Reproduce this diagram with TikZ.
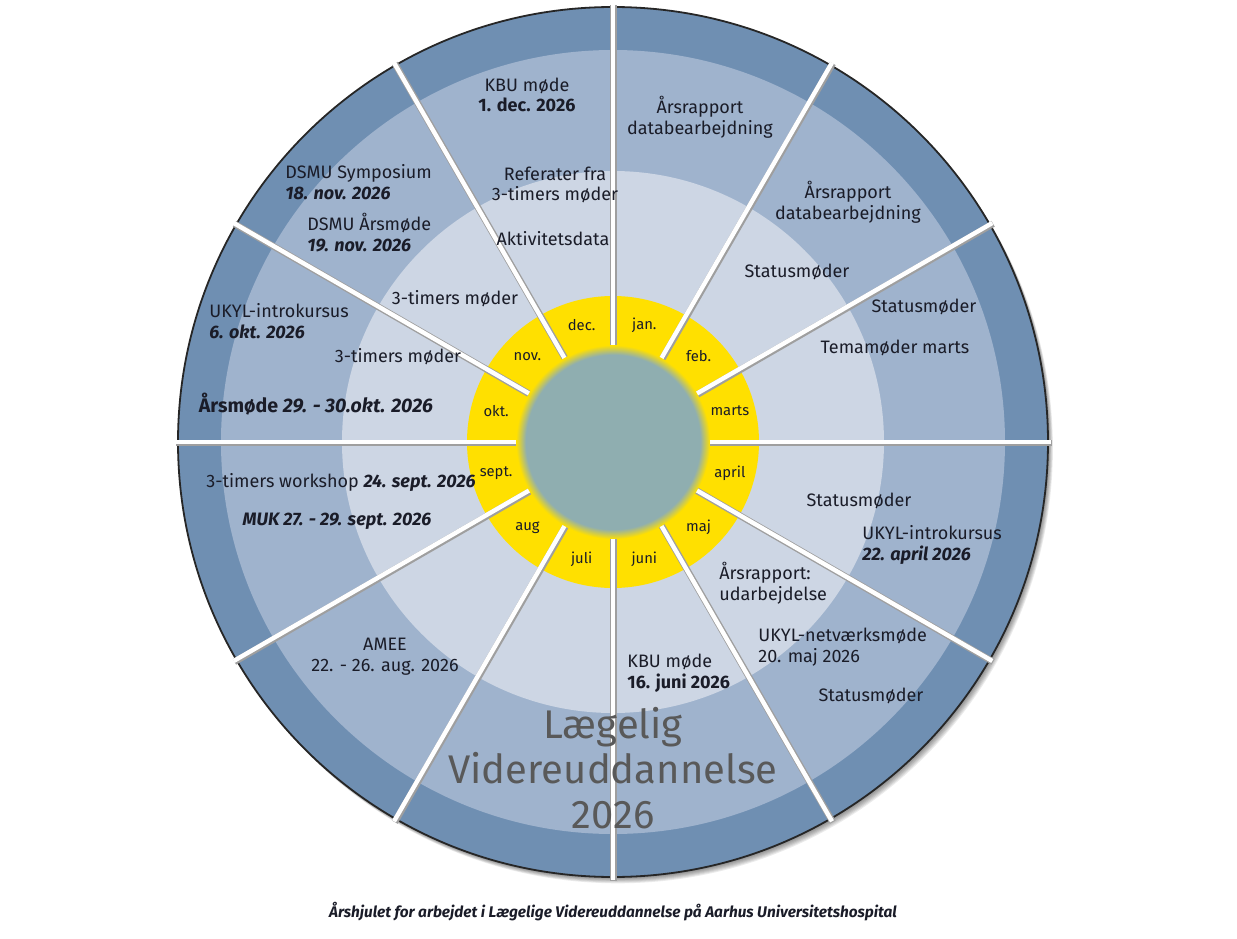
\documentclass[tikz,border=0pt]{standalone}
\usepackage{fontspec}
\setmainfont{Fira Sans}
\definecolor{ringdark}{HTML}{6F8FB2}
\definecolor{ringmid}{HTML}{9FB3CD}
\definecolor{ringlight}{HTML}{CDD6E4}
\definecolor{ringyellow}{HTML}{FFE000}
\definecolor{hubc}{HTML}{8FAEB0}
\definecolor{txt}{HTML}{1A1C28}
\pgfdeclareradialshading{hub}{\pgfpointorigin}{color(0bp)=(hubc); color(22.5bp)=(hubc); color(25bp)=(ringyellow); color(50bp)=(ringyellow)}
\newcommand{\dato}[1]{\textbf{\textit{#1}}}
\tikzset{
  lbl/.style={text=txt, font=\fontsize{9}{10.4}\selectfont, align=center, inner sep=0pt},
  lbll/.style={lbl, align=left, anchor=west},
  mon/.style={text=txt, font=\fontsize{7.4}{8}\selectfont, inner sep=0pt},
  spoke/.style={white, line width=2.2pt},
  spokeshade/.style={gray!75, line width=3.3pt},
}
\begin{document}
\begin{tikzpicture}[x=0.5pt,y=0.5pt]
\useasboundingbox (-613,-496) rectangle (624,442);
% skygge og ringe
\foreach \k in {1,...,7}
  \fill[black,opacity=0.08] (0.7*\k,-0.9*\k) circle (435);
\fill[ringdark] (0,0) circle (435);
\draw[black!85,line width=0.9pt] (0,0) circle (435);
\fill[ringmid] (0,0) circle (392);
\fill[ringlight] (0,0) circle (271);
\fill[ringyellow] (0,0) circle (146);
% eger
\foreach \a in {0,30,...,330}{
  \draw[spokeshade] ([shift={(0.8,-0.8)}]\a:90) -- ([shift={(0.8,-0.8)}]\a:438);
  \draw[spoke] (\a:90) -- (\a:438);
}
\shade[shading=hub] (0,0) circle (97);
% maaneder
\foreach \m [count=\i] in {jan.,feb.,marts,april,maj,juni,juli,aug,sept.,okt.,nov.,dec.}
  \node[mon] (m\i) at ({105-30*\i}:121) {\m};
% jan. - juni
\node[lbl] (aars1) at (87,325) {Årsrapport\\databearbejdning};
\node[lbl] (aars2) at (235,240) {Årsrapport\\databearbejdning};
\node[lbl] (status1) at (184,170) {Statusmøder};
\node[lbl] (status2) at (311,135) {Statusmøder};
\node[lbl] (tema) at (282,94) {Temamøder marts};
\node[lbl] (status3) at (246,-59) {Statusmøder};
\node[lbll] (ukyl1) at (249,-103) {UKYL-introkursus\\\dato{22. april 2026}};
\node[lbll] (udarb) at (106,-141) {Årsrapport:\\udarbejdelse};
\node[lbll] (netv) at (145,-205) {UKYL-netværksmøde\\20. maj 2026};
\node[lbl] (status4) at (258,-254) {Statusmøder};
\node[lbll] (kbu1) at (14,-231) {KBU møde\\\textbf{16. juni 2026}};
% juli - dec.
\node[lbl] (kbu2) at (-86,347) {KBU møde\\\textbf{1. dec. 2026}};
\node[lbl] (referat) at (-58,257) {Referater fra\\3-timers møder};
\node[lbl] (aktiv) at (-60,203) {Aktivitetsdata};
\node[lbll] (dsmu1) at (-328,260) {DSMU Symposium\\\dato{18. nov. 2026}};
\node[lbll] (dsmu2) at (-306,209) {DSMU Årsmøde\\\dato{19. nov. 2026}};
\node[lbl] (tre1) at (-158,143) {3-timers møder};
\node[lbll] (ukyl2) at (-404,121) {UKYL-introkursus\\\dato{6. okt. 2026}};
\node[lbl] (tre2) at (-215,85) {3-timers møder};
\node[lbl, font=\fontsize{9.8}{11}\selectfont] (aarsm) at (-297,38) {\textbf{Årsmøde \textit{29. - 30.okt. 2026}}};
\node[lbl] (works) at (-272,-40) {3-timers workshop \dato{24. sept. 2026}};
\node[lbl] (muk) at (-276,-79) {\dato{MUK 27. - 29. sept. 2026}};
\node[lbl] (amee) at (-228,-215) {AMEE\\22. - 26. aug. 2026};
% titel og tekst
\node[text=black!65, font=\fontsize{20}{22.5}\selectfont, align=center, inner sep=0pt] (titel) at (0,-326) {Lægelig\\Videreuddannelse\\2026};
\node[text=txt, font=\fontsize{7.7}{9}\selectfont\bfseries\itshape, inner sep=0pt] (caption) at (0,-470) {Årshjulet for arbejdet i Lægelige Videreuddannelse på Aarhus Universitetshospital};
\end{tikzpicture}
\end{document}
